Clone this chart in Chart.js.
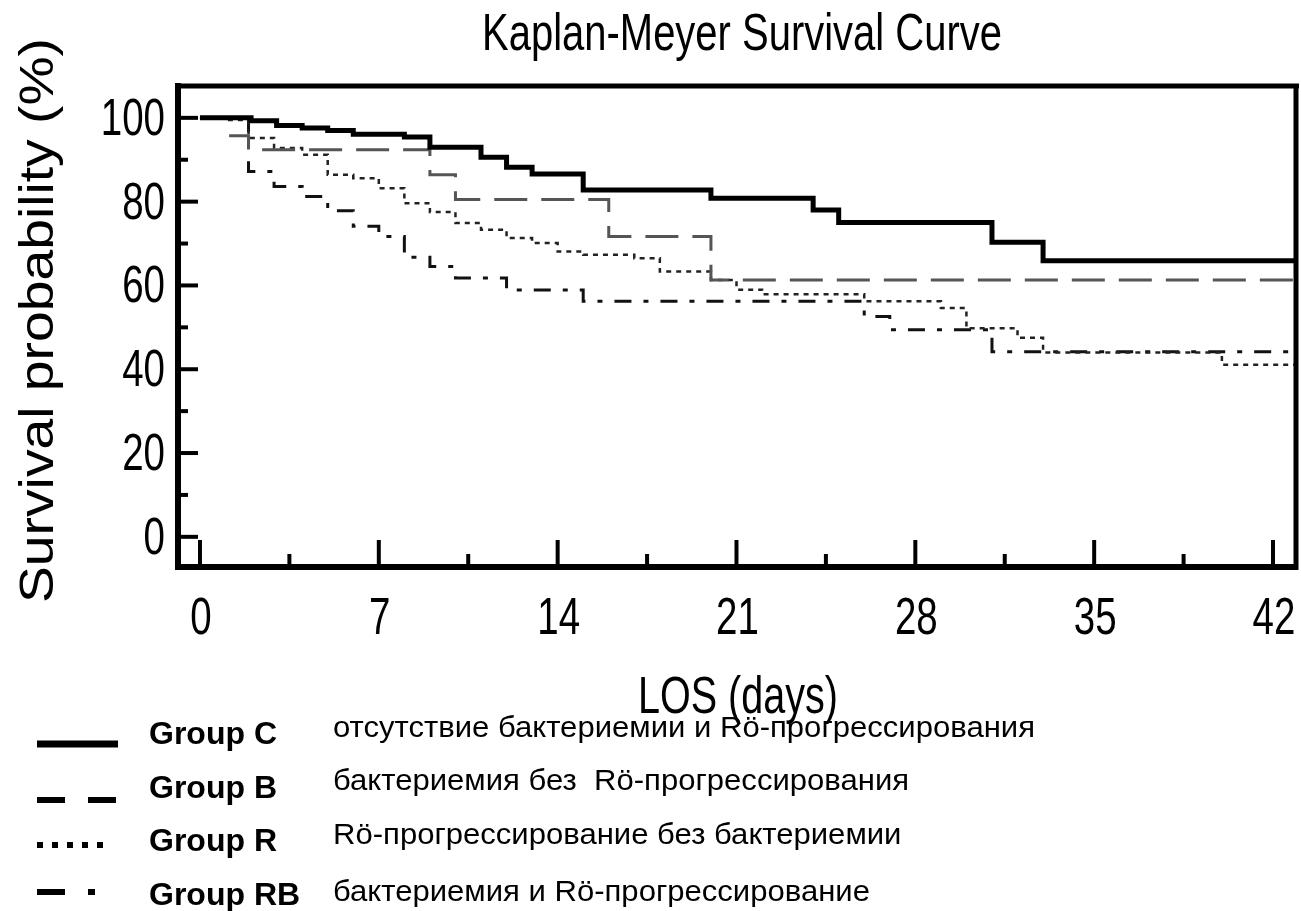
<!DOCTYPE html>
<html>
<head>
<meta charset="utf-8">
<title>Kaplan-Meyer Survival Curve</title>
<script src="https://cdn.jsdelivr.net/npm/chart.js@4/dist/chart.umd.min.js"></script>
<style>
  body { margin: 0; background: #fff; }
  #wrap { width: 1301px; height: 911px; position: relative; }
</style>
</head>
<body>
<div id="wrap"><canvas id="km"></canvas></div>
<script>
// axis ticks
const xTicks = [0, 7, 14, 21, 28, 35, 42];
const yTicks = [0, 20, 40, 60, 80, 100];
const xMin = -0.86, xMax = 42.9;
const yMin = -7.2, yMax = 107.6;

// survival curves (day of event, survival %)
const cDays = [0, 2, 3, 4, 5, 6, 8, 9, 11, 12, 13, 15, 20, 24, 25, 31, 33, 43];
const cSurv = [100, 99.3, 98.2, 97.6, 97.0, 96.1, 95.4, 93.0, 90.6, 88.2, 86.6, 82.8, 80.8, 78.0, 75.0, 70.3, 65.9, 65.9];

const bDays = [0, 1.2, 1.9, 9, 10, 16, 20, 43];
const bSurv = [100, 95.7, 92.4, 86.4, 80.5, 71.7, 61.3, 61.3];

const rDays = [0, 1, 1.9, 2.9, 4, 5, 6, 7, 8, 9, 10, 11, 12, 13, 14, 15, 17, 18, 20, 21, 22, 26, 29, 30, 32, 33, 40, 43];
const rSurv = [100, 99.5, 95.2, 92.8, 91.2, 86.4, 85.6, 83.2, 79.6, 77.5, 74.9, 73.3, 71.3, 70.1, 68.1, 67.3, 66.5, 63.3, 61.3, 59.0, 57.9, 56.2, 54.6, 49.8, 47.5, 44.0, 41.1, 41.1];

const rbDays = [0, 1.9, 2.9, 4, 5, 6, 7, 8, 9, 10, 12, 15, 26, 27, 31, 43];
const rbSurv = [100, 87.2, 83.6, 81.2, 77.8, 74.1, 71.7, 66.7, 64.5, 61.8, 58.9, 56.2, 52.6, 49.4, 44.2, 44.2];

// legend
const groupNames = ['Group C', 'Group B', 'Group R', 'Group RB'];
const groupTexts = [
    'отсутствие бактериемии и Rö-прогрессирования',
    'бактериемия без  Rö-прогрессирования',
    'Rö-прогрессирование без бактериемии',
    'бактериемия и Rö-прогрессирование'
];

const FONT = '"Liberation Sans", Arial, sans-serif';

function toPoints(days, surv) {
    return days.map((d, i) => ({ x: d, y: surv[i] }));
}

function drawText(ctx, text, x, y, opt) {
    ctx.save();
    ctx.font = (opt.weight || 'normal') + ' ' + opt.size + 'px ' + FONT;
    ctx.fillStyle = '#000';
    ctx.textBaseline = 'alphabetic';
    const w = ctx.measureText(text).width;
    const sx = opt.width ? opt.width / w : (opt.sx || 1);
    ctx.translate(x, y);
    if (opt.rotate) ctx.rotate(opt.rotate);
    ctx.scale(sx, 1);
    ctx.textAlign = opt.align || 'left';
    ctx.fillText(text, 0, 0);
    ctx.restore();
    return sx;
}

function line(ctx, x1, y1, x2, y2, width, dash) {
    ctx.save();
    ctx.strokeStyle = '#000';
    ctx.lineWidth = width;
    ctx.lineCap = 'butt';
    ctx.setLineDash(dash || []);
    ctx.beginPath();
    ctx.moveTo(x1, y1);
    ctx.lineTo(x2, y2);
    ctx.stroke();
    ctx.restore();
}

const decorations = {
    id: 'decorations',
    afterDraw(chart) {
        const ctx = chart.ctx;
        const area = chart.chartArea;
        const xs = chart.scales.x;
        const ys = chart.scales.y;

        // top and right frame
        line(ctx, area.left - 3, area.top, area.right + 3, area.top, 5);
        line(ctx, area.right, area.top, area.right, area.bottom + 3, 5);

        // inner tick marks
        yTicks.forEach((v, i) => {
            const py = ys.getPixelForValue(v);
            line(ctx, area.left, py, area.left + 20, py, 4);
            if (i < yTicks.length - 1) {
                const pm = ys.getPixelForValue((v + yTicks[i + 1]) / 2);
                line(ctx, area.left, pm, area.left + 10, pm, 4);
            }
            drawText(ctx, String(v), area.left - 13, py + 17, { size: 52, sx: 0.74, align: 'right' });
        });
        xTicks.forEach((v, i) => {
            const px = xs.getPixelForValue(v);
            line(ctx, px, area.bottom, px, area.bottom - 27, 4);
            if (i < xTicks.length - 1) {
                const pm = xs.getPixelForValue((v + xTicks[i + 1]) / 2);
                line(ctx, pm, area.bottom, pm, area.bottom - 13, 4);
            }
            drawText(ctx, String(v), px + 1, 634, { size: 52, sx: 0.74, align: 'center' });
        });

        // titles
        drawText(ctx, 'Kaplan-Meyer Survival Curve', 482, 50, { size: 52, width: 520 });
        drawText(ctx, 'LOS (days)', 638, 713, { size: 51, width: 200 });
        drawText(ctx, 'Survival probability (%)', 53, 603, { size: 48, width: 565, rotate: -Math.PI / 2 });

        // legend samples
        line(ctx, 37, 744, 118, 744, 7);
        line(ctx, 37, 800, 118, 800, 6, [28, 23]);
        line(ctx, 37, 845, 104, 845, 6, [6, 9]);
        line(ctx, 37, 892, 65, 892, 6);
        line(ctx, 88, 892, 95, 892, 6);

        const nameBase = [744, 798, 851, 905];
        const textBase = [737, 790, 844, 901];
        groupNames.forEach((name, i) => {
            drawText(ctx, name, 149, nameBase[i], { size: 32, weight: 'bold' });
        });
        const sx = drawText(ctx, groupTexts[0], 333, textBase[0], { size: 30, width: 702 });
        groupTexts.slice(1).forEach((t, i) => {
            drawText(ctx, t, 333, textBase[i + 1], { size: 30, sx: sx });
        });
    }
};

const ctx = document.getElementById('km').getContext('2d');
new Chart(ctx, {
    type: 'line',
    data: {
        datasets: [
            {
                label: groupNames[0],
                data: toPoints(cDays, cSurv),
                borderColor: '#000',
                borderWidth: 5
            },
            {
                label: groupNames[1],
                data: toPoints(bDays, bSurv),
                borderColor: '#555',
                borderWidth: 3,
                borderDash: [33, 14]
            },
            {
                label: groupNames[2],
                data: toPoints(rDays, rSurv),
                borderColor: '#222',
                borderWidth: 2.5,
                borderDash: [5, 5]
            },
            {
                label: groupNames[3],
                data: toPoints(rbDays, rbSurv),
                borderColor: '#111',
                borderWidth: 3,
                borderDash: [17, 12, 5, 12]
            }
        ]
    },
    options: {
        responsive: true,
        maintainAspectRatio: false,
        animation: false,
        layout: { padding: { left: 0, right: 5, top: 86, bottom: 0 } },
        elements: {
            point: { radius: 0 },
            line: { stepped: true, tension: 0, fill: false, borderCapStyle: 'butt' }
        },
        plugins: {
            legend: { display: false },
            tooltip: { enabled: false },
            title: { display: false }
        },
        scales: {
            x: {
                type: 'linear',
                min: xMin,
                max: xMax,
                afterBuildTicks: s => { s.ticks = xTicks.map(v => ({ value: v })); },
                afterFit: s => { s.height = 911 - 567; },
                ticks: { display: false },
                grid: { display: false },
                border: { display: true, width: 6, color: '#000' }
            },
            y: {
                type: 'linear',
                min: yMin,
                max: yMax,
                afterBuildTicks: s => { s.ticks = yTicks.map(v => ({ value: v })); },
                afterFit: s => { s.width = 178; },
                ticks: { display: false },
                grid: { display: false },
                border: { display: true, width: 6, color: '#000' }
            }
        }
    },
    plugins: [decorations]
});
</script>
</body>
</html>
